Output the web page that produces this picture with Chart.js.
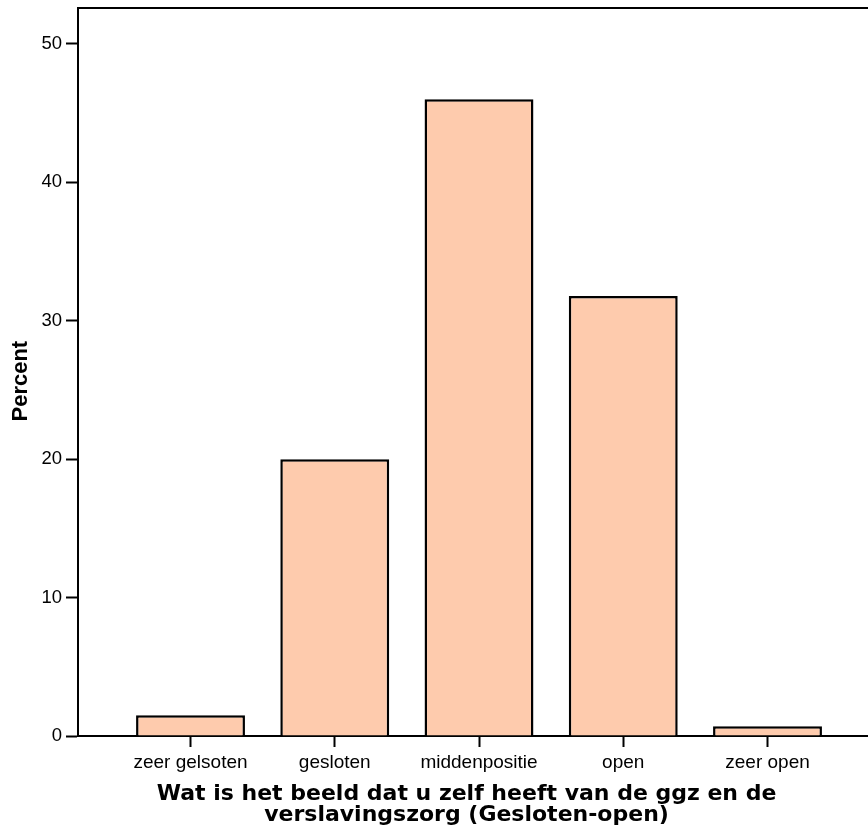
<!DOCTYPE html>
<html>
<head>
<meta charset="utf-8">
<script src="https://cdn.jsdelivr.net/npm/chart.js@4"></script>
<style>
  html, body { margin: 0; padding: 0; background: #fff; overflow: hidden; }
</style>
</head>
<body>
<canvas id="chart" width="880" height="832"></canvas>
<script>
// values
const categories = ['zeer gelsoten', 'gesloten', 'middenpositie', 'open', 'zeer open'];
const percents = [1.5, 20.0, 46.0, 31.8, 0.7];
const yTicks = [0, 10, 20, 30, 40, 50];
const yTitle = 'Percent   ';
const xTitle = [
    'Wat is het beeld dat u zelf heeft van de ggz en de   ',
    'verslavingszorg (Gesloten-open)   '
];

Chart.defaults.color = '#000';
Chart.defaults.font.family = '"Liberation Sans", Arial, sans-serif';

// SPSS draws a frame line along the top of the plot
const topBorder = {
    id: 'topBorder',
    afterDraw(chart) {
        const { ctx, chartArea } = chart;
        ctx.save();
        ctx.strokeStyle = '#000';
        ctx.lineWidth = 2;
        ctx.beginPath();
        ctx.moveTo(chartArea.left - 1, chartArea.top);
        ctx.lineTo(chartArea.right, chartArea.top);
        ctx.stroke();
        ctx.restore();
    }
};

const ctx = document.getElementById('chart').getContext('2d');
new Chart(ctx, {
    type: 'bar',
    data: {
        datasets: [{
            data: percents.map((v, i) => ({ x: i, y: v })),
            backgroundColor: '#fecbad',
            borderColor: '#000',
            borderWidth: 2.5,
            barPercentage: 0.755,
            categoryPercentage: 1
        }]
    },
    options: {
        responsive: false,
        animation: false,
        devicePixelRatio: 1,
        layout: { padding: { top: 8, left: 0, right: 2, bottom: 0 } },
        plugins: {
            legend: { display: false },
            tooltip: { enabled: false }
        },
        scales: {
            x: {
                type: 'linear',
                min: -0.78,
                max: 4.766,
                offset: false,
                afterBuildTicks: scale => {
                    scale.ticks = categories.map((c, i) => ({ value: i }));
                },
                afterFit: scale => {
                    scale.height = 96;
                    scale.paddingLeft = 0;
                    scale.paddingRight = 0;
                },
                ticks: {
                    callback: v => categories[v],
                    autoSkip: false,
                    maxRotation: 0,
                    padding: 4,
                    font: { size: 19 }
                },
                grid: {
                    offset: false,
                    drawOnChartArea: false,
                    drawTicks: true,
                    tickLength: 11,
                    tickColor: '#000',
                    tickWidth: 2
                },
                border: { color: '#000', width: 2 },
                title: {
                    display: true,
                    text: xTitle,
                    font: { family: '"DejaVu Sans", sans-serif', size: 22, weight: 'bold', lineHeight: 0.955 },
                    padding: { top: 0, bottom: 6 }
                }
            },
            y: {
                min: 0,
                max: 52.6,
                afterBuildTicks: scale => {
                    scale.ticks = yTicks.map(v => ({ value: v }));
                },
                afterFit: scale => {
                    scale.width = 78;
                    scale.paddingTop = 0;
                    scale.paddingBottom = 0;
                },
                ticks: {
                    padding: 4,
                    font: { size: 18.5 }
                },
                grid: {
                    drawOnChartArea: false,
                    drawTicks: true,
                    tickLength: 12,
                    tickColor: '#000',
                    tickWidth: 2
                },
                border: { color: '#000', width: 2 },
                title: {
                    display: true,
                    text: yTitle,
                    font: { size: 22, weight: 'bold', lineHeight: 1.2 },
                    padding: { top: 8, bottom: 0 }
                }
            }
        }
    },
    plugins: [topBorder]
});
</script>
</body>
</html>
